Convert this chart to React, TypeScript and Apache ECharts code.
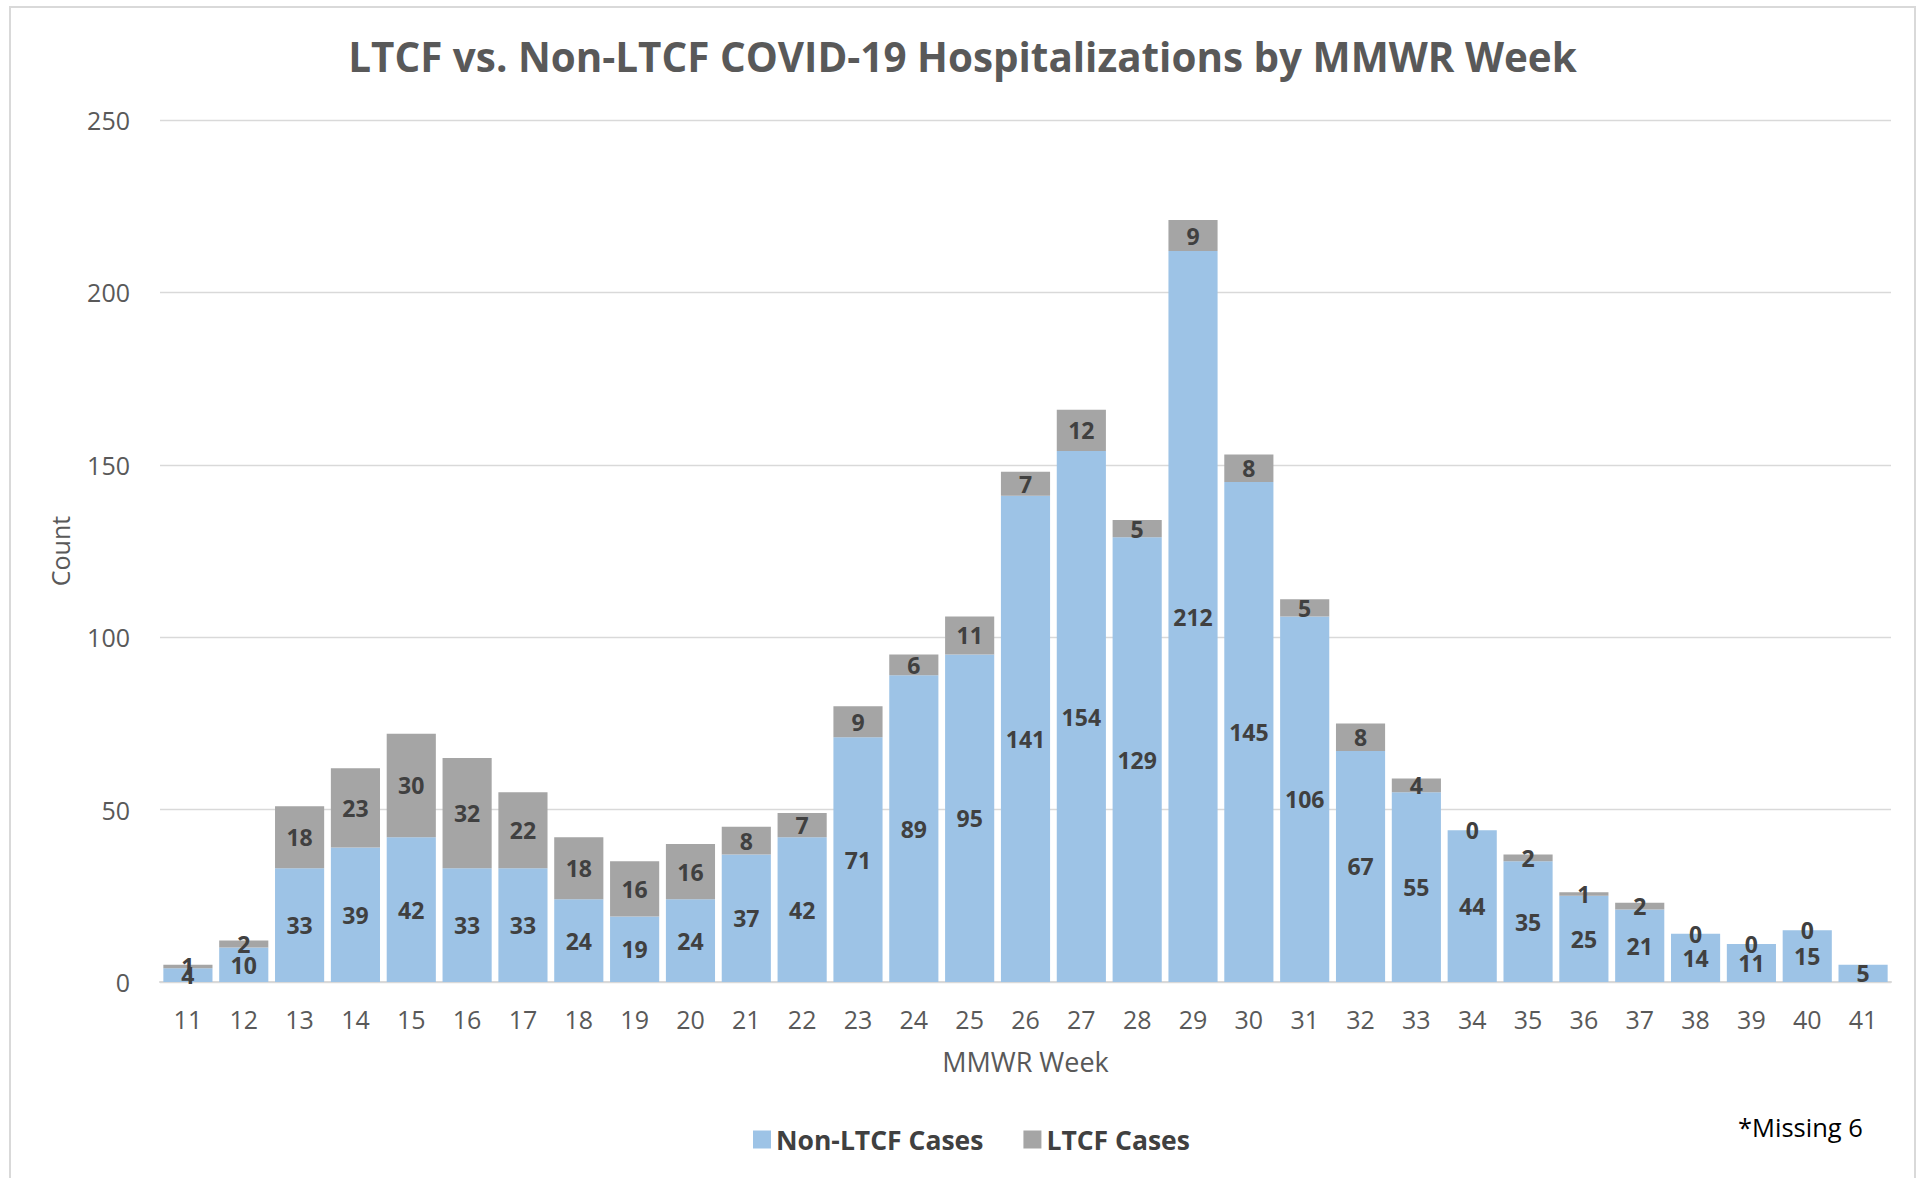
import React, { useEffect, useRef } from "react";
import * as echarts from "echarts";

const weeks = ["11","12","13","14","15","16","17","18","19","20","21","22","23","24","25","26","27","28","29","30","31","32","33","34","35","36","37","38","39","40","41"];
const nonLtcf = [4,10,33,39,42,33,33,24,19,24,37,42,71,89,95,141,154,129,212,145,106,67,55,44,35,25,21,14,11,15,5];
const ltcf: (number | null)[] = [1,2,18,23,30,32,22,18,16,16,8,7,9,6,11,7,12,5,9,8,5,8,4,0,2,1,2,0,0,0,null];
const yTicks = { min: 0, max: 250, interval: 50 };

const FONT = "'Open Sans', 'Noto Sans', sans-serif";

export default function App() {
  const ref = useRef<HTMLDivElement>(null);
  useEffect(() => {
    if (!ref.current) return;
    const chart = echarts.init(ref.current, null, { renderer: "svg" });
    const labelStyle = {
      show: true,
      position: "inside",
      fontFamily: FONT,
      fontWeight: "bold",
      fontSize: 23,
      color: "#404040",
    };
    chart.setOption({
      animation: false,
      backgroundColor: "#ffffff",
      textStyle: { fontFamily: FONT },
      title: {
        text: "LTCF vs. Non-LTCF COVID-19 Hospitalizations by MMWR Week",
        left: "center",
        top: 31,
        textStyle: { fontFamily: FONT, fontWeight: "bold", fontSize: 40.4, color: "#595959" },
      },
      grid: { left: 160, right: 34, top: 120, bottom: 196, containLabel: false },
      legend: {
        bottom: 20,
        left: 748,
        itemWidth: 18,
        itemHeight: 18,
        itemGap: 40,
        icon: "rect",
        textStyle: { fontFamily: FONT, fontWeight: "bold", fontSize: 26.5, color: "#404040" },
        data: ["Non-LTCF Cases", "LTCF Cases"],
      },
      xAxis: {
        type: "category",
        data: weeks,
        name: "MMWR Week",
        nameLocation: "middle",
        nameGap: 66,
        nameTextStyle: { fontFamily: FONT, fontSize: 27, color: "#595959" },
        axisTick: { show: false },
        axisLine: { lineStyle: { color: "#D9D9D9", width: 2 } },
        axisLabel: { fontFamily: FONT, fontSize: 25, color: "#595959", margin: 24 },
      },
      yAxis: {
        type: "value",
        min: yTicks.min,
        max: yTicks.max,
        interval: yTicks.interval,
        name: "Count",
        nameLocation: "middle",
        nameGap: 88,
        nameTextStyle: { fontFamily: FONT, fontSize: 25, color: "#595959" },
        axisLine: { show: false },
        axisTick: { show: false },
        splitLine: { lineStyle: { color: "#D9D9D9", width: 1.3 } },
        axisLabel: { fontFamily: FONT, fontSize: 25, color: "#595959", margin: 30 },
      },
      series: [
        {
          name: "Non-LTCF Cases",
          type: "bar",
          stack: "total",
          barCategoryGap: "12%",
          data: nonLtcf,
          itemStyle: { color: "#9DC3E6" },
          label: labelStyle,
        },
        {
          name: "LTCF Cases",
          type: "bar",
          stack: "total",
          barCategoryGap: "12%",
          data: ltcf,
          itemStyle: { color: "#A5A5A5" },
          label: labelStyle,
        },
      ],
      graphic: [
        {
          type: "rect",
          shape: { x: 10, y: 7, width: 1905, height: 1200 },
          style: { fill: "none", stroke: "#D9D9D9", lineWidth: 2 },
          silent: true,
        },
        {
          type: "text",
          left: 1738,
          top: 1114,
          style: { text: "*Missing 6", fontFamily: FONT, fontSize: 25.5, fill: "#000000" },
        },
      ],
    });
    return () => chart.dispose();
  }, []);
  return (
    <div
      ref={ref}
      style={{ position: "fixed", left: 0, top: 0, width: 1925, height: 1178 }}
    />
  );
}
